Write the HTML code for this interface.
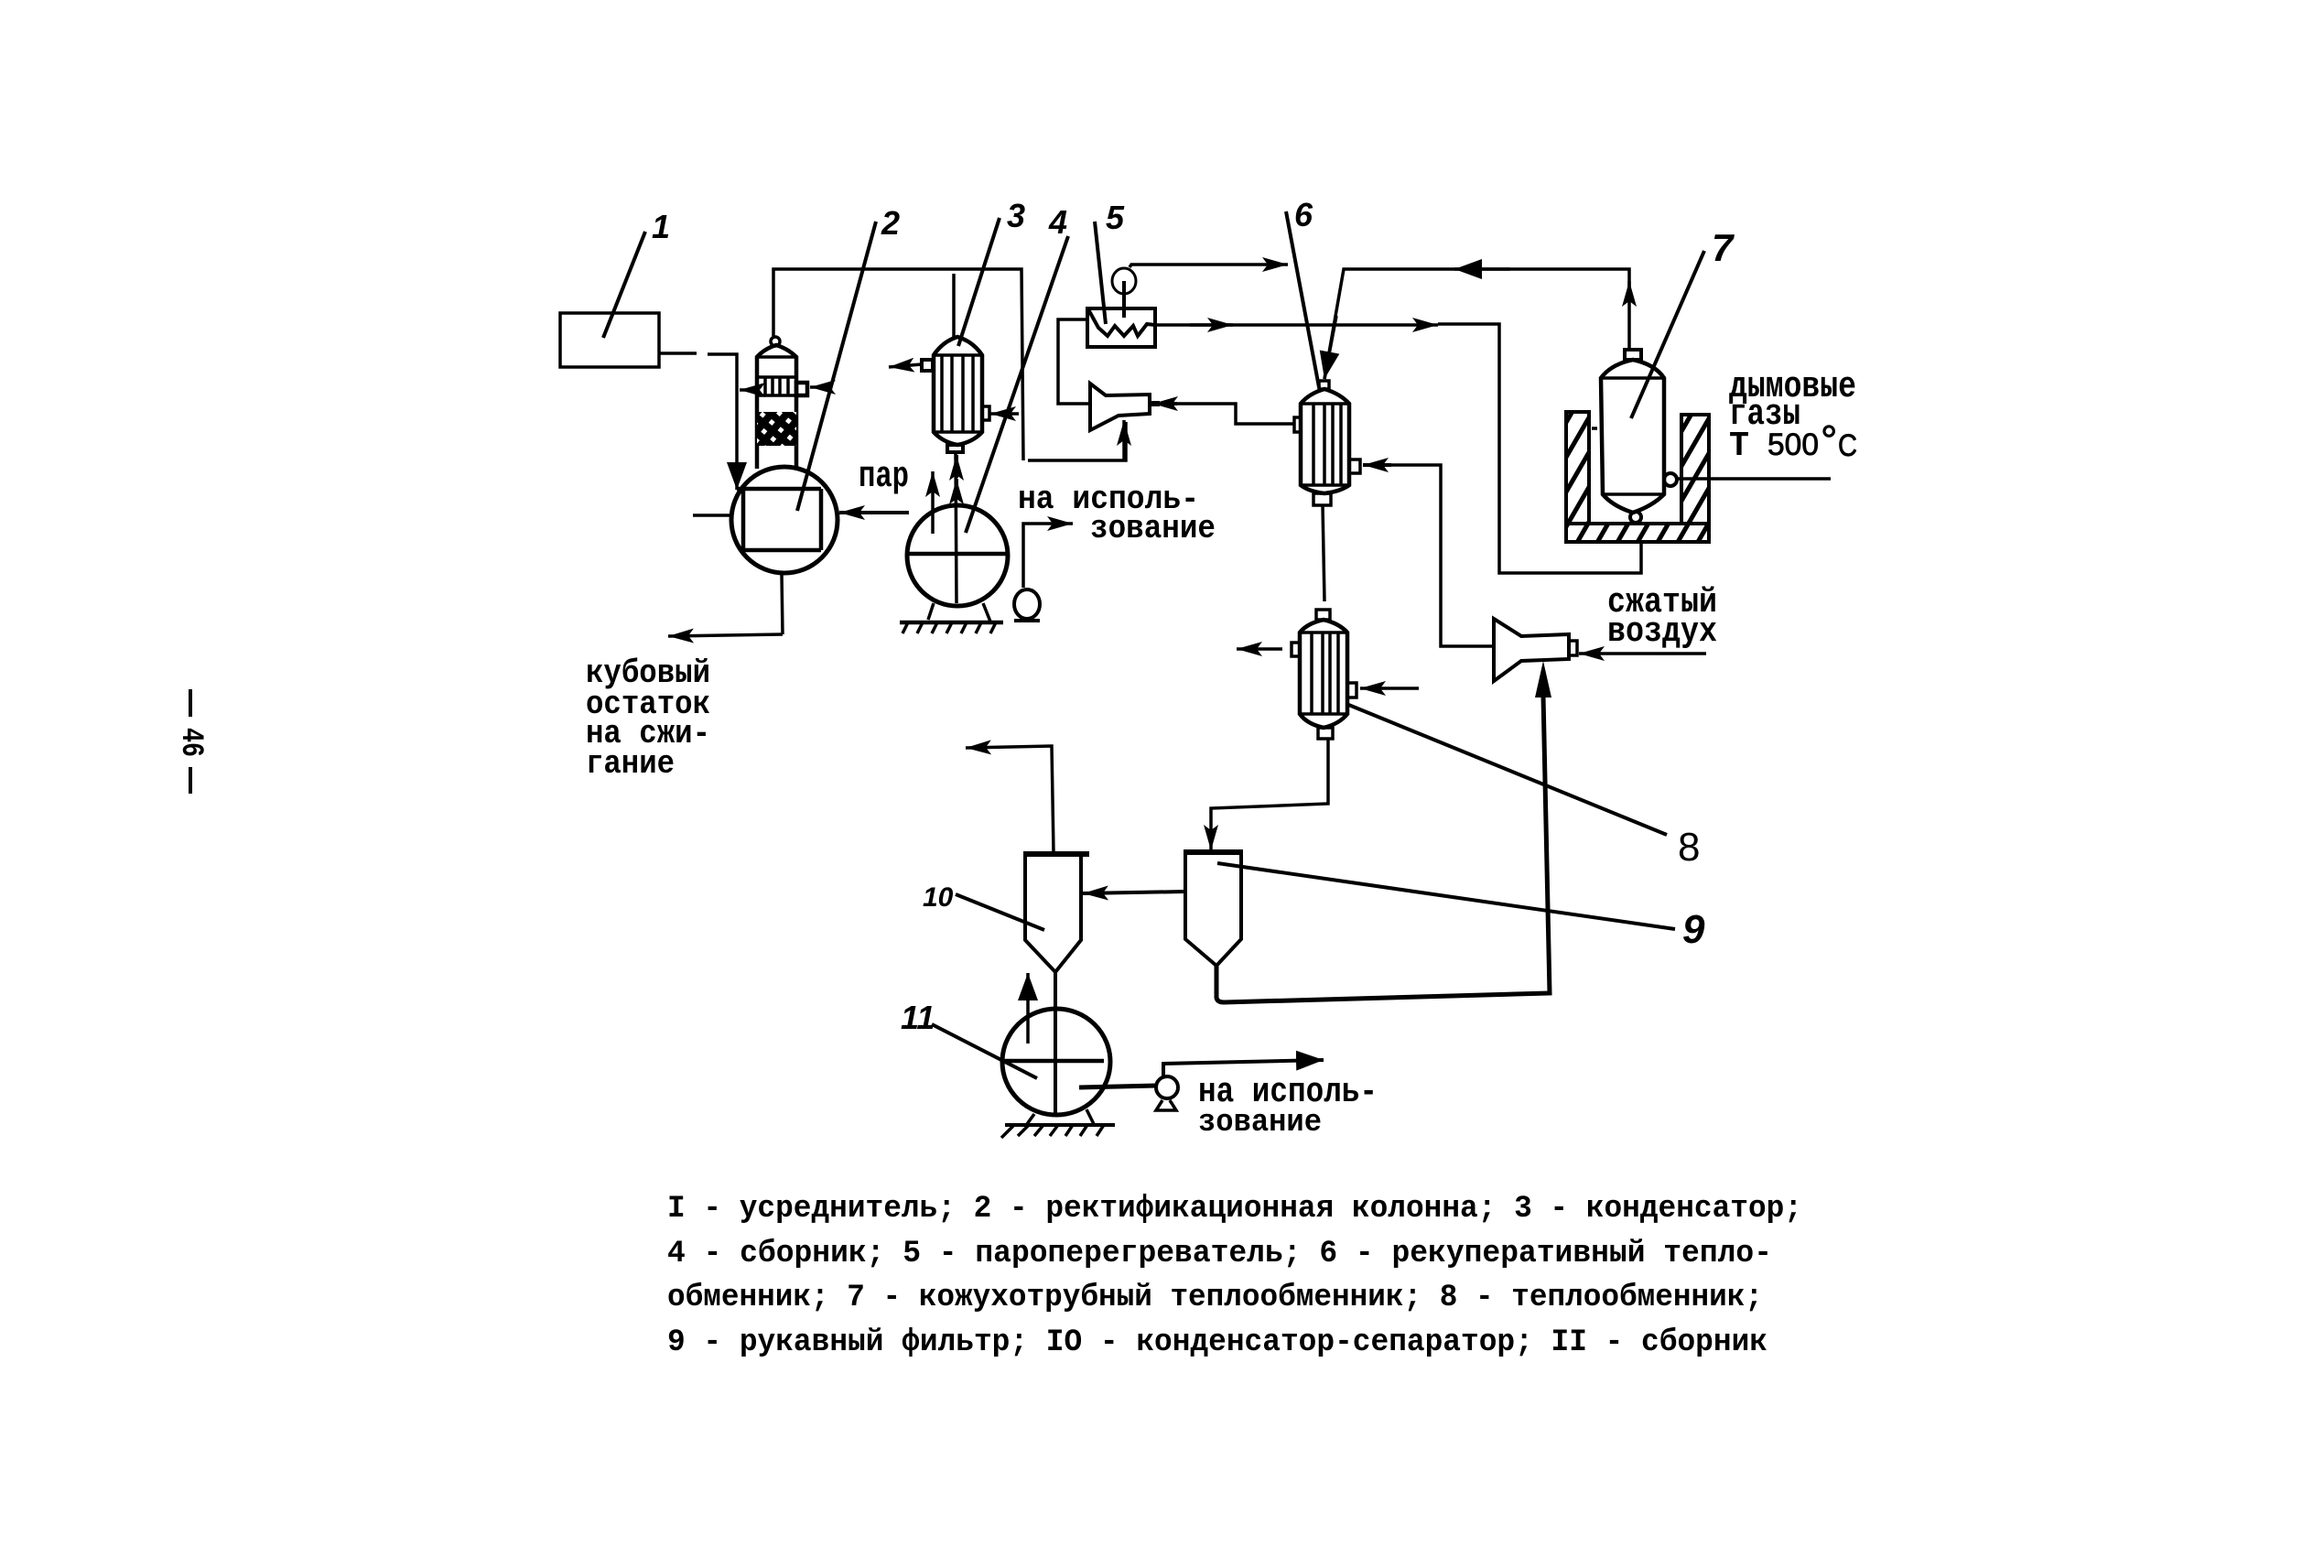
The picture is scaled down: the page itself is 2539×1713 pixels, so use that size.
<!DOCTYPE html>
<html><head><meta charset="utf-8"><style>
html,body{margin:0;padding:0;background:#fff}
svg{display:block}
text{font-family:"Liberation Mono",monospace;font-weight:bold;fill:#000;font-size:36px}
.c{font-size:34px}
.n{font-family:"Liberation Sans",sans-serif;font-style:italic;font-weight:bold;font-size:36px}
.s{font-family:"Liberation Sans",sans-serif;font-weight:normal;stroke:#000;stroke-width:.8px}
</style></head><body>
<svg width="2539" height="1713" viewBox="0 0 2539 1713" xmlns="http://www.w3.org/2000/svg">
<defs>
<marker id="a" markerUnits="userSpaceOnUse" markerWidth="32" markerHeight="20" refX="28" refY="9" orient="auto"><path d="M0 1L28 9L0 17L6 9Z" fill="#000"/></marker>
<marker id="b" markerUnits="userSpaceOnUse" markerWidth="34" markerHeight="24" refX="30" refY="11" orient="auto"><path d="M0 0L30 11L0 22Z" fill="#000"/></marker>
<pattern id="h" patternUnits="userSpaceOnUse" width="19" height="19" patternTransform="rotate(30)"><rect width="19" height="19" fill="#fff"/><rect width="5" height="19" fill="#000"/></pattern>
<pattern id="x" patternUnits="userSpaceOnUse" width="13" height="13" patternTransform="rotate(40)"><rect width="13" height="13" fill="#000"/><rect x="4" y="4" width="5" height="5" fill="#fff"/></pattern>
</defs>
<rect width="2539" height="1713" fill="#fff"/>
<g fill="none" stroke="#000" stroke-width="3.5" stroke-linejoin="miter">

<!-- leaders -->
<path d="M705 253L659 369M957 242L871 558M1092 238L1047 378M1167 258L1055 582M1196 242L1208 354M1405 231L1441 423M1862 274L1782 457M1471 769L1821 912M1330 943L1830 1015M1044 977L1141 1016M1018 1119L1133 1178" stroke-width="4"/>

<!-- 1 -->
<rect x="612" y="342" width="108" height="59"/>
<path d="M720 386H761M773 387H805V535" marker-end="url(#b)"/>

<!-- 2 column -->
<path d="M827 512V390Q835 381 848 377Q861 381 870 390V512" stroke-width="4.5"/>
<circle cx="847" cy="373" r="5"/>
<path d="M827 390H870M827 412H870M827 432H870M836 412V432M844 412V432M852 412V432M861 412V432" stroke-width="3.5"/>
<rect x="827" y="450" width="43" height="37" fill="url(#x)" stroke="none"/>
<rect x="870" y="418" width="12" height="14" stroke-width="4.5"/>
<path d="M827 426H808" marker-end="url(#a)"/>
<path d="M905 423H885" marker-end="url(#a)"/>
<circle cx="857" cy="568" r="58" stroke-width="5"/>
<path d="M812 534V601M897 534V601M805 534H897M812 601H897" stroke-width="4.5"/>
<path d="M757 563H797M854 627L855 693"/>
<path d="M855 693L730 695" marker-end="url(#a)"/>
<path d="M993 560H917" marker-end="url(#a)" stroke-width="4"/>
<path d="M845 367V294H1116L1118 503M1123 503H1230V461"/>
<path d="M1228 502V459" marker-end="url(#a)"/>
<path d="M1042 299V369"/>

<!-- 3 condenser -->
<path d="M1020 388Q1030 373 1046 368Q1063 373 1073 388V472Q1063 483 1046 486Q1030 483 1020 472Z" stroke-width="4.5"/>
<path d="M1020 388H1073M1020 472H1073M1029 388V472M1040 388V472M1052 388V472M1063 388V472"/>
<rect x="1035" y="486" width="17" height="8" stroke-width="4"/>
<rect x="1007" y="393" width="12" height="12" stroke-width="4"/>
<rect x="1073" y="444" width="8" height="15"/>
<path d="M1007 398L971 401" marker-end="url(#a)"/>
<path d="M1113 452H1082" marker-end="url(#a)"/>
<path d="M1044 494L1045 659"/>
<path d="M1045 522V497" marker-end="url(#a)" stroke-width="4"/>
<path d="M1045 545V523" marker-end="url(#a)" stroke-width="4"/>

<!-- 4 receiver -->
<ellipse cx="1046" cy="607" rx="55" ry="55" stroke-width="5"/>
<path d="M991 605H1101" stroke-width="4.5"/>
<path d="M1019 583V515" marker-end="url(#a)"/>
<path d="M1014 677L1020 659M1082 679L1074 659"/>
<path d="M983 680H1096" stroke-width="4.5"/>
<path d="M992 680L986 692M1008 680L1002 692M1024 680L1018 692M1040 680L1034 692M1056 680L1050 692M1072 680L1066 692M1088 680L1082 692"/>
<ellipse cx="1122" cy="660" rx="14" ry="16" stroke-width="4"/>
<path d="M1108 678H1136" stroke-width="4"/>
<path d="M1118 642V572H1172" marker-end="url(#a)"/>

<!-- 5 superheater -->
<rect x="1188" y="337" width="74" height="42" stroke-width="4"/>
<path d="M1189 338L1200 358L1210 367L1218 356L1228 367L1238 356L1243 367L1253 354L1262 355" stroke-width="4"/>
<ellipse cx="1228" cy="307" rx="13" ry="14" stroke-width="3"/>
<path d="M1228 307V347" stroke-width="4"/>
<path d="M1234 292L1236 289H1407" marker-end="url(#a)"/>
<path d="M1262 355H1571" marker-end="url(#a)"/>
<path d="M1300 355H1347" marker-end="url(#a)"/>
<path d="M1571 354H1638V626H1793V592"/>
<path d="M1188 349H1156V441H1190"/>

<!-- ejector A -->
<path d="M1191 419L1208 432L1256 431V452L1222 454L1191 470Z" stroke-width="4"/>
<path d="M1256 441H1267" stroke-width="6"/>
<path d="M1286 441H1259" marker-end="url(#a)" stroke-width="4"/>
<path d="M1286 441H1350V463H1414"/>

<!-- 6 -->
<path d="M1421 441Q1430 430 1447 425Q1464 430 1474 441V530Q1464 537 1447 539Q1430 537 1421 530Z" stroke-width="4.5"/>
<path d="M1421 441H1474M1421 530H1474M1435 441V530M1447 441V530M1456 441V530M1465 441V530"/>
<rect x="1441" y="416" width="11" height="9"/>
<rect x="1435" y="539" width="19" height="13"/>
<rect x="1414" y="456" width="7" height="16"/>
<rect x="1474" y="502" width="12" height="15"/>
<path d="M1632 706H1574V508H1489"/>
<path d="M1520 508H1489" marker-end="url(#a)" stroke-width="4"/>
<path d="M1780 329V294H1468L1447 414"/>
<path d="M1460 345L1447 414" marker-end="url(#b)"/>
<path d="M1650 294H1589" marker-end="url(#b)"/>
<path d="M1780 360V307" marker-end="url(#a)"/>
<path d="M1780 360V382"/>

<!-- 7 -->
<path d="M1749 413Q1760 398 1784 393Q1808 398 1818 413L1818 540Q1805 553 1784 560Q1762 553 1751 540Z" stroke-width="4.5"/>
<path d="M1749 413H1818M1751 540H1818" stroke-width="3.5"/>
<rect x="1775" y="382" width="18" height="11" stroke-width="4"/>
<circle cx="1787" cy="565" r="6" stroke-width="4"/>
<circle cx="1825" cy="524" r="7" stroke-width="4"/>
<rect x="1711" y="450" width="25" height="142" fill="url(#h)" stroke-width="4"/>
<rect x="1837" y="453" width="30" height="139" fill="url(#h)" stroke-width="4"/>
<rect x="1711" y="572" width="156" height="20" fill="url(#h)" stroke-width="4"/>
<path d="M1832 523H2000M1739 468H1745"/>

<!-- 8 -->
<path d="M1445 552L1447 657"/>
<path d="M1420 691Q1428 681 1446 677Q1463 681 1472 691V780Q1463 791 1446 795Q1428 791 1420 780Z" stroke-width="4.5"/>
<path d="M1420 691H1472M1420 780H1472M1433 691V780M1445 691V780M1453 691V780M1462 691V780"/>
<rect x="1438" y="666" width="15" height="11"/>
<rect x="1440" y="795" width="16" height="12"/>
<rect x="1411" y="702" width="9" height="15"/>
<rect x="1472" y="746" width="10" height="16"/>
<path d="M1401 709H1351" marker-end="url(#a)"/>
<path d="M1550 752H1486" marker-end="url(#a)"/>
<path d="M1451 807V878L1323 883V929" marker-end="url(#a)"/>

<!-- ejector B -->
<path d="M1632 676L1662 695L1714 693V720L1662 722L1632 744Z" stroke-width="4"/>
<rect x="1714" y="700" width="9" height="16"/>
<path d="M1864 714H1725" marker-end="url(#a)"/>
<path d="M1337 1095L1693 1085L1686 760" stroke-width="5"/>
<path d="M1686 722L1677 762H1695Z" fill="#000" stroke="none"/>

<!-- 9 -->
<path d="M1295 931V1026L1329 1055L1356 1026V931" stroke-width="4"/>
<path d="M1293 931H1358" stroke-width="6"/>
<path d="M1329 1055V1090Q1330 1095 1337 1095" stroke-width="5"/>
<path d="M1295 974L1183 976" stroke-width="4" marker-end="url(#a)"/>

<!-- 10 -->
<path d="M1120 933V1027L1153 1062L1181 1027V933" stroke-width="4"/>
<path d="M1118 933H1190" stroke-width="6"/>
<path d="M1153 1062V1220" stroke-width="4"/>
<path d="M1151 931L1149 815L1055 817" marker-end="url(#a)"/>

<!-- 11 -->
<ellipse cx="1154" cy="1160" rx="59" ry="58" stroke-width="5"/>
<path d="M1095 1159H1206" stroke-width="4.5"/>
<path d="M1123 1140V1063" marker-end="url(#b)"/>
<path d="M1122 1228L1130 1217M1195 1228L1187 1212"/>
<path d="M1098 1229H1218" stroke-width="4"/>
<path d="M1108 1229L1094 1243M1124 1229L1112 1241M1140 1229L1130 1241M1156 1229L1147 1241M1172 1229L1164 1241M1188 1229L1180 1241M1206 1229L1198 1241"/>
<circle cx="1275" cy="1188" r="12" stroke-width="4"/>
<path d="M1270 1202L1263 1213H1285L1278 1202" stroke-width="3.5"/>
<path d="M1179 1188L1263 1186" stroke-width="5"/>
<path d="M1271 1177V1162L1446 1158" marker-end="url(#b)" stroke-width="4"/>
</g>

<!-- numbers -->
<text class="n" x="712" y="260">1</text>
<text class="n" x="963" y="256">2</text>
<text class="n" x="1100" y="248">3</text>
<text class="n" x="1146" y="255">4</text>
<text class="n" x="1208" y="250">5</text>
<text class="n" x="1414" y="247">6</text>
<text class="n" x="1870" y="285" style="font-size:42px">7</text>
<text class="n" x="1833" y="940" style="font-size:44px;font-style:normal;font-weight:normal">8</text>
<text class="n" x="1838" y="1030" style="font-size:44px">9</text>
<text class="n" x="1008" y="990" style="font-size:30px">10</text>
<text class="n" x="984" y="1124">11</text>

<!-- labels -->
<text x="938" y="531" textLength="55" lengthAdjust="spacingAndGlyphs" style="font-size:40px">пар</text>
<text x="640" y="745" textLength="136" lengthAdjust="spacingAndGlyphs">кубовый</text>
<text x="640" y="779" textLength="136" lengthAdjust="spacingAndGlyphs">остаток</text>
<text x="640" y="811" textLength="136" lengthAdjust="spacingAndGlyphs">на сжи-</text>
<text x="640" y="844" textLength="97" lengthAdjust="spacingAndGlyphs">гание</text>
<text x="1112" y="555" textLength="198" lengthAdjust="spacingAndGlyphs">на исполь-</text>
<text x="1191" y="587" textLength="137" lengthAdjust="spacingAndGlyphs">зование</text>
<text x="1889" y="433" textLength="139" lengthAdjust="spacingAndGlyphs" style="font-size:40px">дымовые</text>
<text x="1889" y="463" textLength="78" lengthAdjust="spacingAndGlyphs" style="font-size:40px">газы</text>
<text x="1889" y="497" textLength="22" lengthAdjust="spacingAndGlyphs" style="font-size:38px">Т</text>
<text class="s" x="1931" y="497" textLength="56" lengthAdjust="spacingAndGlyphs" style="font-size:34px">500</text>
<text class="s" x="1989" y="497" style="font-size:46px">°</text>
<text class="s" x="2008" y="498" textLength="21" lengthAdjust="spacingAndGlyphs" style="font-size:34px">С</text>
<text x="1756" y="668" textLength="120" lengthAdjust="spacingAndGlyphs" style="font-size:38px">сжатый</text>
<text x="1756" y="700" textLength="120" lengthAdjust="spacingAndGlyphs" style="font-size:38px">воздух</text>
<text x="1309" y="1203" textLength="196" lengthAdjust="spacingAndGlyphs" style="font-size:38px">на исполь-</text>
<text x="1309" y="1235" textLength="135" lengthAdjust="spacingAndGlyphs" style="font-size:34px">зование</text>

<!-- caption -->
<text class="c" x="729" y="1329" textLength="1240" lengthAdjust="spacingAndGlyphs">I - усреднитель; 2 - ректификационная колонна; 3 - конденсатор;</text>
<text class="c" x="729" y="1378" textLength="1207" lengthAdjust="spacingAndGlyphs">4 - сборник; 5 - пароперегреватель; 6 - рекуперативный тепло-</text>
<text class="c" x="729" y="1426" textLength="1197" lengthAdjust="spacingAndGlyphs">обменник; 7 - кожухотрубный теплообменник; 8 - теплообменник;</text>
<text class="c" x="729" y="1475" textLength="1202" lengthAdjust="spacingAndGlyphs">9 - рукавный фильтр; IO - конденсатор-сепаратор; II - сборник</text>

<!-- page number -->
<rect x="206" y="753" width="4" height="30" fill="#000"/>
<text transform="translate(200,795) rotate(90)" textLength="32" lengthAdjust="spacingAndGlyphs" style="font-size:34px">46</text>
<rect x="206" y="838" width="4" height="29" fill="#000"/>
</svg>
</body></html>
